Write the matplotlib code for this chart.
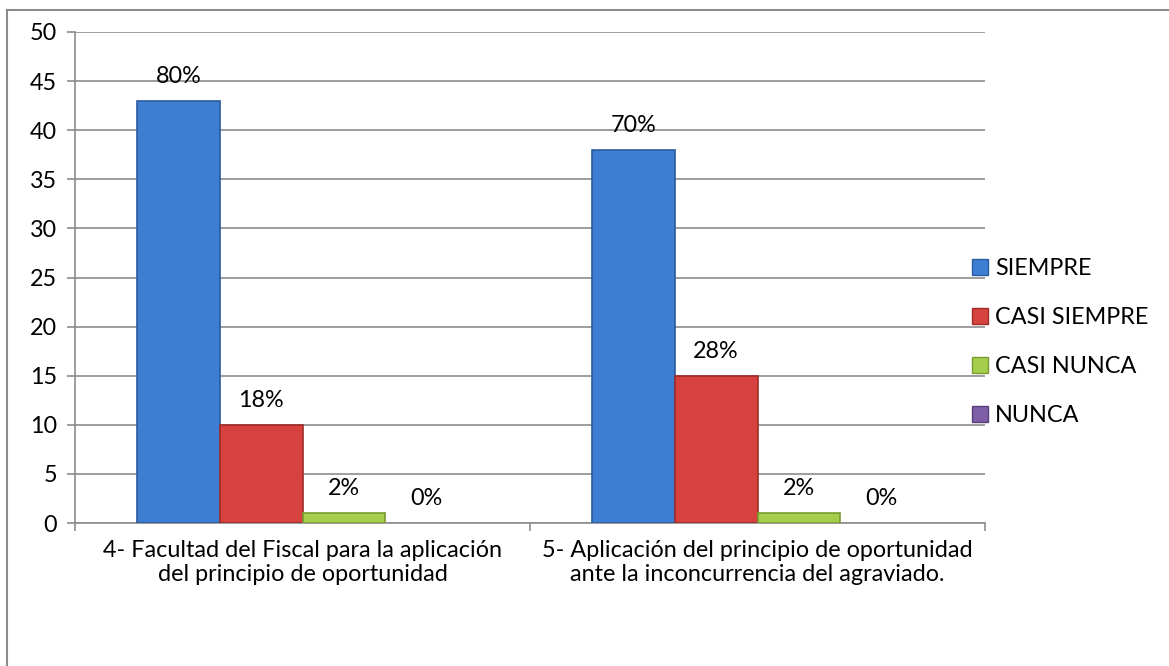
import matplotlib.pyplot as plt
import numpy as np
from matplotlib.patches import Patch
from matplotlib.lines import Line2D

# Les données du graphique
categorias = ["4- Facultad del Fiscal para la aplicación\ndel principio de oportunidad",
              "5- Aplicación del principio de oportunidad\nante la inconcurrencia del agraviado."]
series = ["SIEMPRE", "CASI SIEMPRE", "CASI NUNCA", "NUNCA"]
siempre = [43, 38]
casi_siempre = [10, 15]
casi_nunca = [1, 1]
nunca = [0, 0]
porcentajes = [["80%", "70%"], ["18%", "28%"], ["2%", "2%"], ["0%", "0%"]]

valores = [siempre, casi_siempre, casi_nunca, nunca]
colores = ["#3D7ED3", "#D7423F", "#A4CE4B", "#7D5EA7"]
bordes = ["#2A5B9C", "#A02C2A", "#7A9B30", "#573F7A"]

plt.rcParams['font.family'] = ['Lato', 'DejaVu Sans']
fs = 16.8

fig = plt.figure(figsize=(11.69, 6.66), dpi=100)
ax = fig.add_axes([75 / 1169, 1 - 523 / 666, 910 / 1169, 491 / 666])

x = np.arange(len(categorias))
ancho = 1 / 5.5
for i in range(4):
    pos = x + (i - 1.5) * ancho
    lw = [1.2 if v > 0 else 0 for v in valores[i]]
    barras = ax.bar(pos, valores[i], ancho, color=colores[i], edgecolor=bordes[i],
                    linewidth=lw, zorder=3)
    for b, txt in zip(barras, porcentajes[i]):
        ax.annotate(txt, (b.get_x() + b.get_width() / 2, b.get_height()),
                    xytext=(0, 13), textcoords="offset points",
                    ha="center", va="baseline", fontsize=fs, zorder=4)

ax.set_xlim(-0.5, 1.5)
ax.set_ylim(0, 50)
ax.set_yticks(np.arange(0, 51, 5))
ax.yaxis.grid(True, color="#8C8C8C", linewidth=1.2, zorder=0)
ax.set_axisbelow(True)

ax.set_xticks(x)
ax.set_xticklabels(categorias, fontsize=fs, linespacing=1.22)
ax.set_xticks([-0.5, 0.5, 1.5], minor=True)
ax.tick_params(axis="x", which="major", length=0, pad=12)
ax.tick_params(axis="x", which="minor", length=6, width=1.2, color="#8C8C8C", direction="out")
ax.tick_params(axis="y", length=6, width=1.2, color="#8C8C8C", labelsize=fs, pad=7)

for s in ["top", "right"]:
    ax.spines[s].set_visible(False)
for s in ["left", "bottom"]:
    ax.spines[s].set_color("#8C8C8C")
    ax.spines[s].set_linewidth(1.2)

# La légende
poignees = [Patch(facecolor=colores[i], edgecolor=bordes[i], linewidth=1) for i in range(4)]
ax.legend(poignees, series, loc="upper left", bbox_to_anchor=(972 / 1169, 1 - 258 / 666),
          bbox_transform=fig.transFigure, frameon=False, fontsize=fs,
          handlelength=0.7, handleheight=0.7, handletextpad=0.3,
          labelspacing=1.2, borderpad=0, borderaxespad=0)

# Le cadre extérieur (seulement haut et gauche visibles)
fig.add_artist(Line2D([7 / 1169, 7 / 1169], [0, 1 - 10 / 666], transform=fig.transFigure,
                      color="#8C8C8C", linewidth=1.5))
fig.add_artist(Line2D([7 / 1169, 1], [1 - 10 / 666, 1 - 10 / 666], transform=fig.transFigure,
                      color="#8C8C8C", linewidth=1.5))

fig.savefig("out.png", dpi=100)
